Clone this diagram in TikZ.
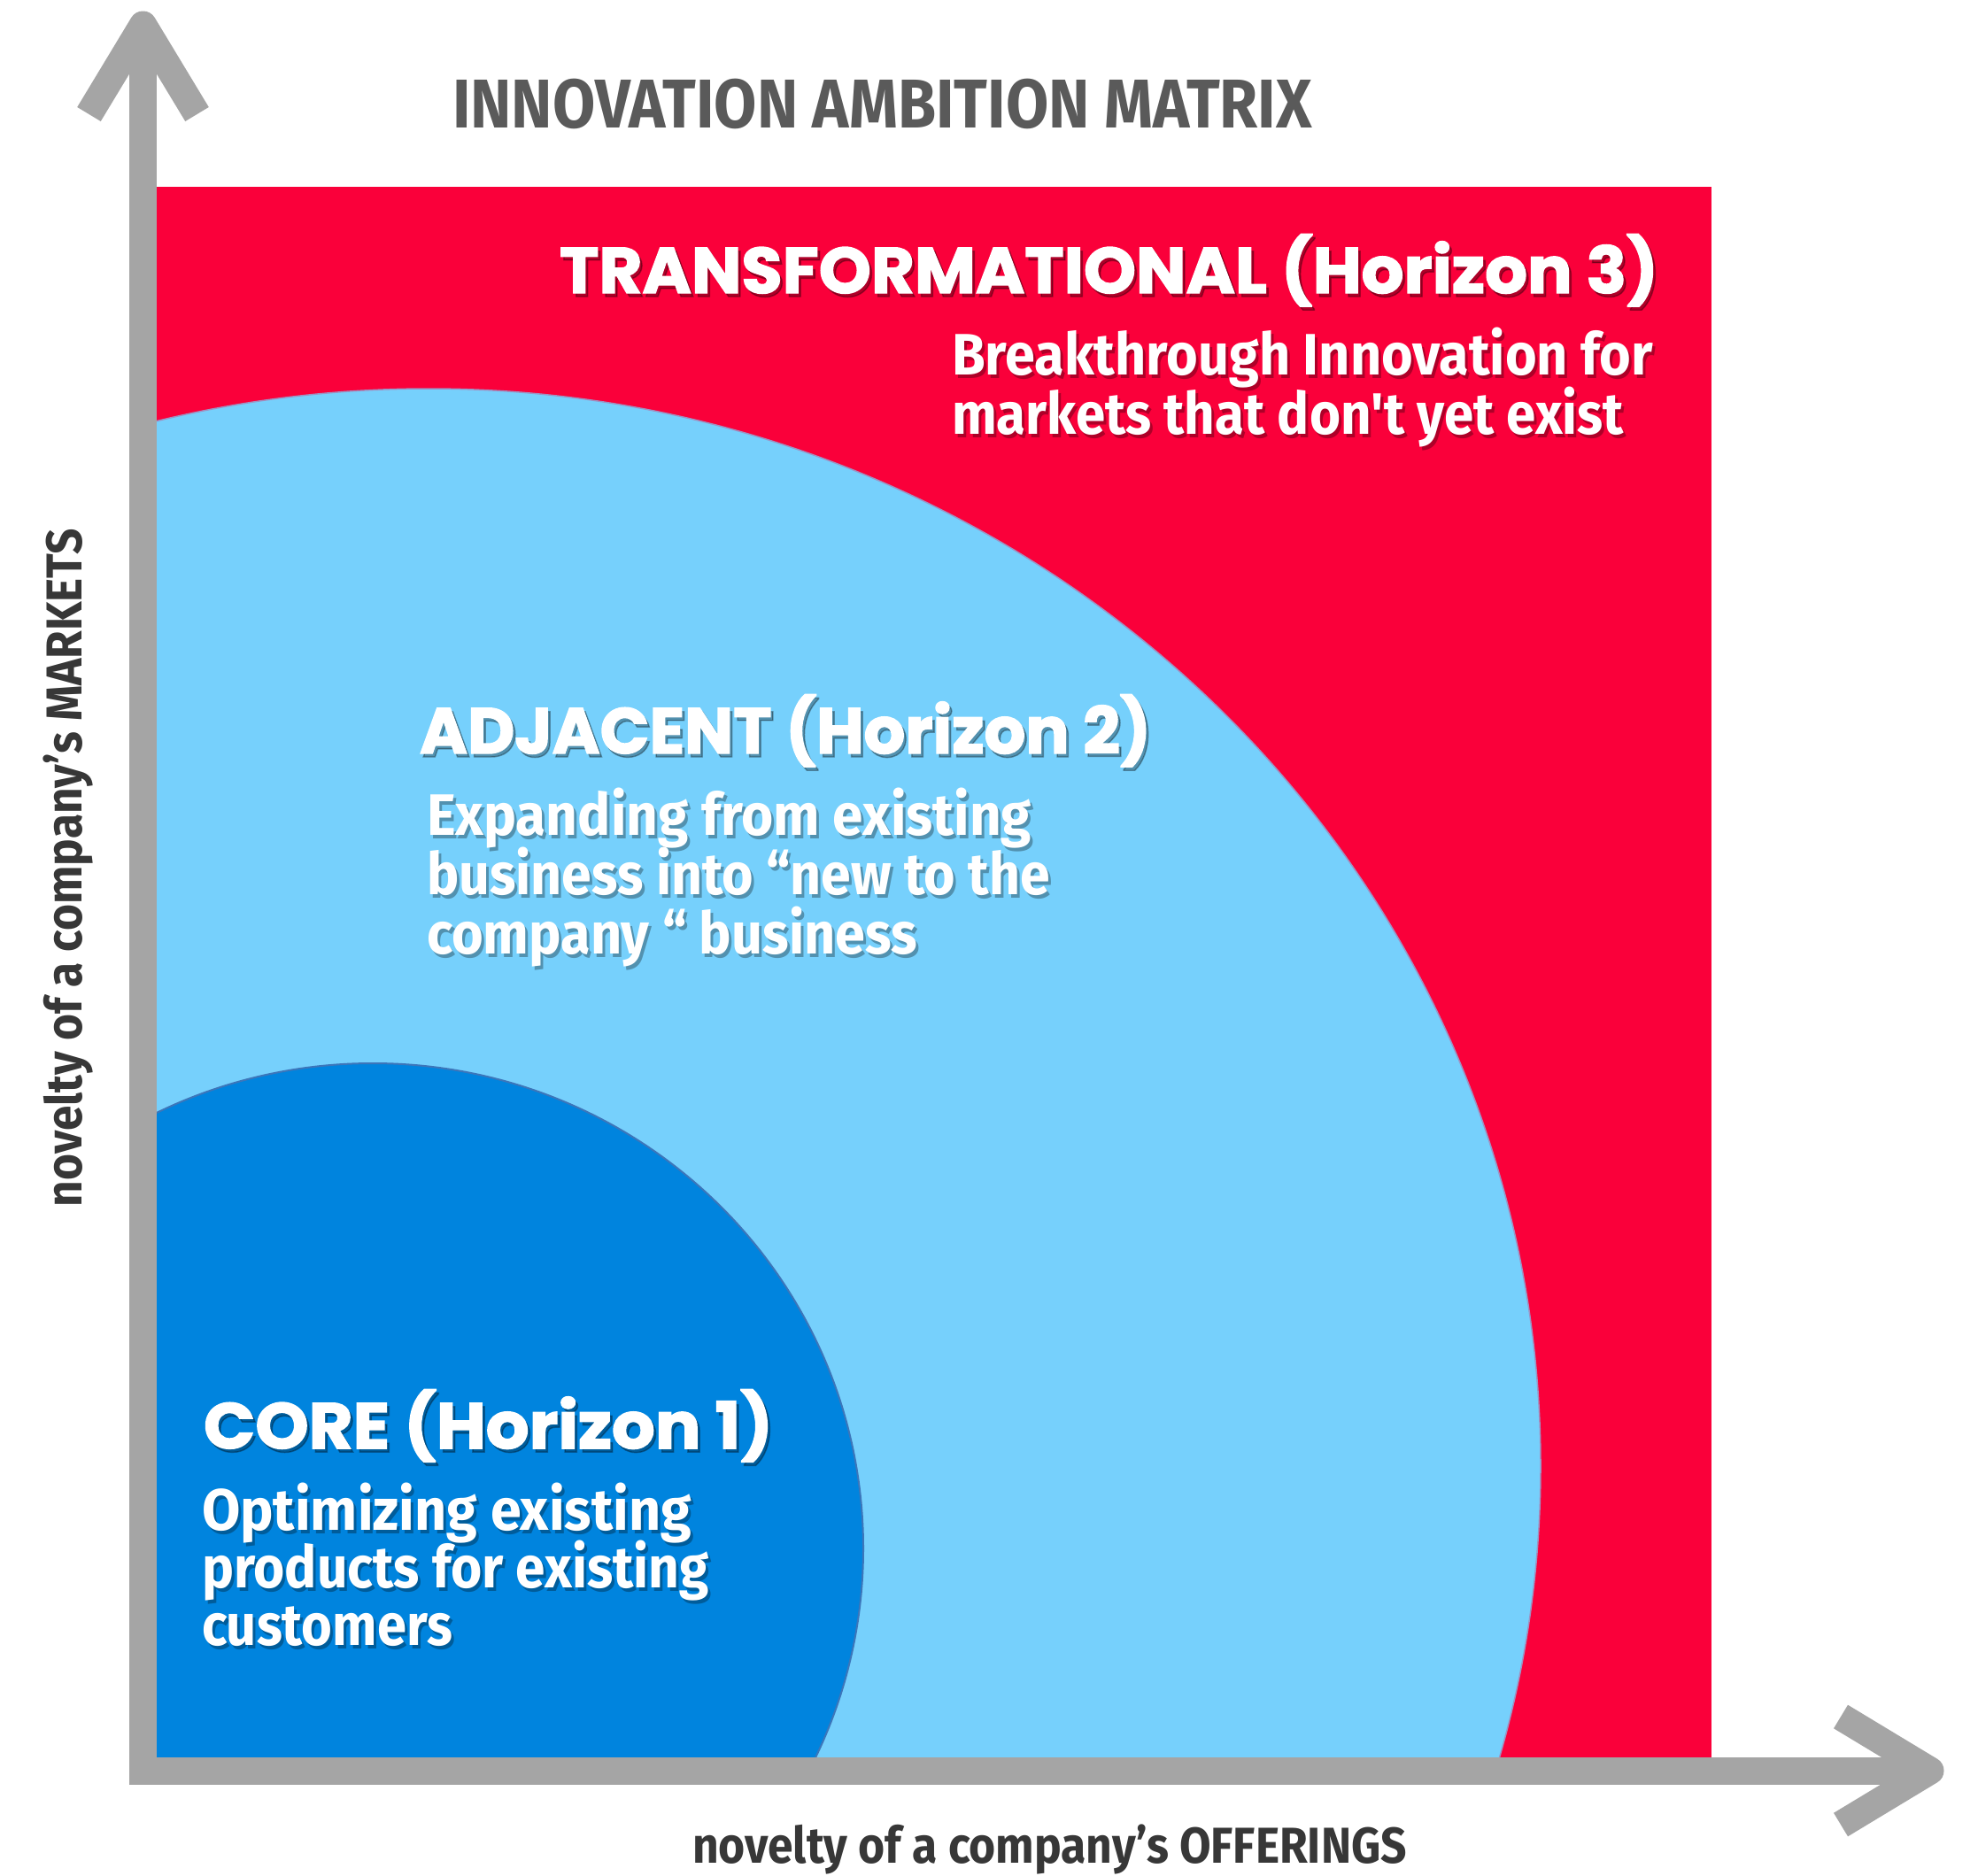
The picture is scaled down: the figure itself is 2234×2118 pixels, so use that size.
\documentclass[tikz,border=0pt]{standalone}
\usepackage{fontspec}
\usepackage{graphicx}
\newfontfamily\headfont{Poppins}[BoldFeatures={FakeBold=2}]
\newfontfamily\bodyfont{Fira Sans}

\definecolor{hred}{RGB}{250,0,58}
\definecolor{hlight}{RGB}{118,208,252}
\definecolor{hdark}{RGB}{0,132,222}
\definecolor{hdarkedge}{RGB}{60,118,186}
\definecolor{axisgray}{RGB}{165,165,165}
\definecolor{titlegray}{RGB}{90,90,90}
\definecolor{labelgray}{RGB}{55,55,55}

% set a line to a given width (in pt) by horizontal scaling only
\newsavebox\fitbox
\newlength\fitw
\newcommand\fitto[2]{\sbox\fitbox{#2}\setlength\fitw{\wd\fitbox}%
  \pgfmathsetmacro\fitr{#1/\fitw}\scalebox{\fitr}[1]{\usebox\fitbox}}

\newcommand\headstyle{\headfont\bfseries\fontsize{73}{75}\selectfont}
\newcommand\bodystyle{\bodyfont\bfseries\fontsize{66}{67}\selectfont}
\newcommand\labelstyle{\bodyfont\bfseries\fontsize{57}{60}\selectfont}
\newcommand\titlestyle{\bodyfont\bfseries\fontsize{78}{80}\selectfont}

% white text line with a soft drop shadow: name, x, y, width, font, text
\newcommand\wline[6]{%
  \node[shd] (#1-sh) at (#2+3,#3+4) {#5\fitto{#4}{#6}};
  \node[wtxt] (#1) at (#2,#3) {#5\fitto{#4}{#6}};}

\begin{document}
\begin{tikzpicture}[x=1pt,y=-1pt,
  lbl/.style={anchor=base west, inner sep=0pt, outer sep=0pt},
  wtxt/.style={lbl, text=white},
  shd/.style={lbl, text=black, opacity=0.3},
  axisline/.style={draw=axisgray, line width=31pt, line join=miter, line cap=butt},
  headline/.style={draw=axisgray, line width=31pt, line join=round, line cap=butt}]

\useasboundingbox (0,0) rectangle (2234,2118);
\fill[white] (0,0) rectangle (2234,2118);

% horizons
\fill[hred] (161,211) rectangle (1933,2000);
\begin{scope}
  \clip (176,211) rectangle (1933,1985);
  \filldraw[fill=hlight, draw=hlight!70!hred, line width=1.5pt]
    (484,1656) ellipse [x radius=1256, y radius=1217];
  \filldraw[fill=hdark, draw=hdarkedge, line width=2pt]
    (421,1749) ellipse [x radius=554, y radius=548];
\end{scope}

% axes
\coordinate (ytip) at (161.5,28);
\coordinate (origin) at (161.5,2000);
\coordinate (xtip) at (2180,2000);
\coordinate (ywl) at (100.5,129);
\coordinate (ywr) at (222.5,129);
\coordinate (xwu) at (2079,1939);
\coordinate (xwd) at (2079,2061);
\draw[axisline] (ytip) -- (origin) -- (xtip);
\draw[headline] (ywl) -- (ytip) -- (ywr);
\draw[headline] (xwu) -- (xtip) -- (xwd);

% title
\node[lbl, text=titlegray] (title) at (511,144)
  {\titlestyle\fitto{971}{INNOVATION AMBITION MATRIX}};

% horizon 3
\wline{h3}{632}{331}{1241}{\headstyle}{TRANSFORMATIONAL (Horizon 3)}
\wline{h3a}{1075}{423}{792}{\bodystyle}{Breakthrough Innovation for}
\wline{h3b}{1075}{490}{759}{\bodystyle}{markets that don't yet exist}

% horizon 2
\wline{h2}{474}{851}{826}{\headstyle}{ADJACENT (Horizon 2)}
\wline{h2a}{482}{943}{683}{\bodystyle}{Expanding from existing}
\wline{h2b}{482}{1010}{704}{\bodystyle}{business into “new to the}
\wline{h2c}{482}{1077}{554}{\bodystyle}{company “ business}

% horizon 1
\wline{h1}{230}{1636}{643}{\headstyle}{CORE (Horizon 1)}
\wline{h1a}{228}{1728}{553}{\bodystyle}{Optimizing existing}
\wline{h1b}{228}{1793}{573}{\bodystyle}{products for existing}
\wline{h1c}{228}{1858}{283}{\bodystyle}{customers}

% axis labels
\node[lbl, text=labelgray] (xlabel) at (782,2104)
  {\labelstyle\fitto{807}{novelty of a company’s OFFERINGS}};
\node[lbl, text=labelgray, rotate=90] (ylabel) at (92,1363)
  {\labelstyle\fitto{766}{novelty of a company’s MARKETS}};

\end{tikzpicture}
\end{document}
